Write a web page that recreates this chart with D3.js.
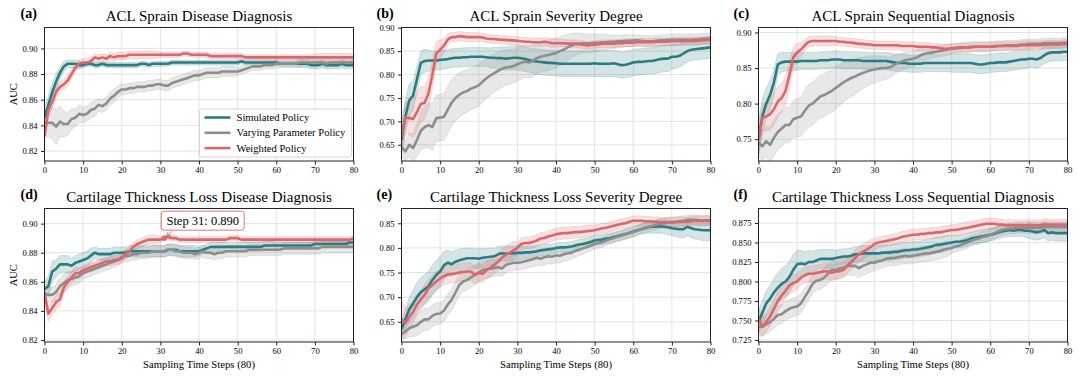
<!DOCTYPE html>
<html lang="en">
<head>
<meta charset="utf-8">
<script src="https://d3js.org/d3.v7.min.js"></script>
<style>
  body { margin: 0; background: #fff; }
  svg text { font-family: "Liberation Serif", "Times New Roman", serif; fill: #000; }
  .grid line { stroke: #e3e3e3; stroke-width: 1; }
  .axis path, .axis line { stroke: #222; }
</style>
</head>
<body>
<svg id="chart" width="1079" height="379"></svg>
<script>

// AUC values are stored x1000, one value per sampling step 0..80
var steps = d3.range(0, 81);
var seriesNames = ["Simulated Policy", "Varying Parameter Policy", "Weighted Policy"];
var seriesColors = ["#2b7b80", "#8d8d8d", "#d9676b"];

// (a) ACL Sprain Disease Diagnosis
var a_sim = [846,856,866,874,881,886,888,888,888,887, 887,888,888,887,887,888,887,887,887,887,
  887,887,887,887,887,888,888,887,888,888, 888,888,888,889,889,889,889,889,889,889,
  889,889,889,889,889,889,889,889,889,889, 889,890,889,889,889,889,889,889,889,889,
  889,888,888,888,888,888,888,888,888,887, 887,887,888,887,887,887,887,888,887,887,887];
var a_sim_sd = [8,7,7,6,5,4,3,3,3,3, 2,2,2,2,2,2,2,2,2,2, 2,2,2,2,2,2,2,2,2,2, 2,2,2,2,2,2,2,2,2,2,
  2,2,2,2,2,2,2,2,2,2, 2,2,2,2,2,2,2,2,2,2, 2,2,2,2,2,2,3,3,3,3, 3,3,3,3,3,3,3,3,3,3,3];
var a_var = [842,842,842,839,843,841,841,845,846,849, 848,849,852,853,856,855,857,861,863,866,
  868,868,869,869,870,870,870,871,871,872, 872,871,871,873,874,875,876,877,878,879,
  879,880,881,881,881,881,882,882,882,882, 882,883,884,885,886,886,886,887,887,887,
  888,888,888,888,888,888,889,889,889,889, 889,889,889,888,889,889,889,889,889,889,889];
var a_var_sd = [10,11,12,14,12,10,9,8,7,7, 6,6,6,6,5,5,5,5,5,5, 4,4,4,4,4,4,4,4,4,4, 4,4,4,4,4,4,4,4,4,4,
  4,4,4,4,4,4,4,4,4,4, 3,3,3,3,3,3,3,3,3,3, 3,3,3,3,3,3,3,3,3,3, 3,3,3,3,3,3,3,3,3,3,3];
var a_wt = [832,852,858,866,870,872,875,880,885,888, 889,889,890,893,892,893,892,894,893,894,
  894,894,895,895,895,895,895,895,895,895, 895,895,895,895,895,895,896,896,895,895,
  895,895,895,894,894,894,894,894,894,894, 894,894,893,893,893,893,893,893,893,893,
  893,893,893,893,893,893,893,893,893,893, 893,893,893,893,893,893,893,893,893,893,893];
var a_wt_sd = [8,6,5,5,4,4,4,4,3,3, 3,3,3,3,3,3,3,3,3,3, 3,3,3,3,3,3,3,3,3,3, 2,2,2,2,2,2,2,2,2,2,
  2,2,2,2,2,2,2,2,2,2, 2,2,2,2,2,2,2,2,2,2, 2,2,2,2,2,2,2,2,2,2, 3,3,3,3,3,3,3,3,3,3,3];

// (b) ACL Sprain Severity Degree
var b_sim = [660,710,745,755,790,825,829,830,830,830, 831,832,833,835,836,836,837,837,838,838,
  838,838,837,836,836,835,835,834,835,836, 836,835,833,831,829,828,827,826,825,825,
  824,823,823,823,823,823,823,823,823,823, 824,823,823,823,823,824,822,820,821,823,
  826,827,827,828,829,829,831,833,834,834, 838,838,840,845,850,853,854,855,856,857,858];
var b_sim_sd = [30,35,35,30,28,25,25,22,20,20, 20,20,20,20,20,20,20,20,20,20, 20,20,20,21,22,23,24,25,25,25,
  26,26,26,26,26,27,27,27,27,27, 27,27,27,27,27,27,27,27,27,27, 28,28,28,28,28,28,28,28,28,28,
  28,28,28,28,28,28,28,28,28,28, 26,25,24,24,23,23,23,23,23,23,23];
var b_var = [646,636,650,643,660,680,688,692,688,707, 708,710,725,740,750,757,762,765,770,773,
  777,785,792,798,803,808,812,815,816,818, 822,825,828,826,829,835,838,840,842,844,
  846,850,853,858,862,865,866,867,866,867, 868,868,869,869,870,870,871,871,872,872,
  873,873,872,871,871,871,872,873,873,874, 874,874,875,874,874,874,875,875,876,876,877];
var b_var_sd = [20,22,25,30,35,40,45,48,50,50, 50,50,50,50,48,47,46,46,45,45, 45,44,43,42,41,40,39,38,37,36,
  35,35,34,34,34,33,33,33,33,33, 32,31,30,28,26,24,22,21,20,20, 19,18,17,16,15,14,14,13,13,13,
  12,12,12,12,12,12,12,12,12,12, 12,12,12,12,12,12,12,12,12,12,12];
var b_wt = [668,708,707,705,720,737,740,760,800,845, 853,862,875,880,880,882,881,880,880,880,
  880,879,877,876,876,875,874,874,873,873, 872,871,870,870,869,869,869,870,869,867,
  867,867,867,866,866,866,865,864,862,863, 864,865,866,866,866,866,867,867,868,868,
  868,869,869,869,869,869,870,870,870,870, 871,871,871,871,872,872,872,873,873,874,874];
var b_wt_sd = [35,35,35,40,40,38,35,32,30,25, 20,15,12,10,10,10,10,10,10,10, 9,9,9,9,9,9,9,9,9,9,
  9,9,9,9,9,9,9,9,9,9, 8,8,8,8,8,8,8,8,8,8, 8,8,8,8,8,8,8,8,8,8, 8,8,8,8,8,8,8,8,8,8, 8,8,8,8,8,8,8,8,8,8,8];

// (c) ACL Sprain Sequential Diagnosis
var c_sim = [750,782,800,812,830,855,858,859,859,859, 859,860,860,860,860,860,861,861,861,862,
  862,862,861,861,861,861,861,860,860,860, 860,860,860,860,859,858,857,857,857,856,
  856,856,856,857,857,857,857,857,857,857, 857,857,857,857,857,857,856,855,855,856,
  857,857,858,858,858,859,860,861,862,862, 863,863,862,864,868,871,872,872,872,873,873];
var c_sim_sd = [25,25,22,20,18,15,14,13,13,13, 12,12,12,12,12,12,12,12,12,12, 12,12,12,12,12,12,12,12,12,12,
  12,12,12,12,12,12,12,12,12,12, 12,12,12,12,12,12,12,12,12,12, 13,13,13,13,13,13,13,13,13,13,
  13,13,13,13,13,13,13,13,13,13, 12,12,12,12,12,12,12,12,12,12,12];
var c_var = [745,740,747,742,752,760,765,770,770,778, 780,782,790,797,800,805,810,812,815,818,
  822,826,830,833,836,838,841,843,845,847, 848,849,850,850,851,854,857,859,861,862,
  863,865,868,870,871,872,873,874,875,876, 877,878,878,879,879,880,880,880,880,880,
  880,881,881,881,882,882,882,882,883,883, 884,884,884,884,885,885,885,885,885,886,886];
var c_var_sd = [20,20,22,25,25,25,25,25,25,26, 27,28,29,30,30,30,30,30,30,30, 30,29,28,27,26,25,24,22,21,20,
  19,18,17,16,15,14,13,12,12,11, 11,10,10,9,9,8,8,8,8,8, 7,7,7,7,7,7,7,7,7,7,
  7,7,7,7,7,7,7,7,7,7, 7,7,7,7,7,7,7,7,7,7,7];
var c_wt = [748,780,782,785,792,803,808,818,840,865, 872,876,882,887,888,888,888,888,888,888,
  888,887,887,886,886,885,884,884,883,883, 882,882,882,882,882,882,882,881,881,881,
  881,880,880,880,880,879,879,878,877,877, 878,878,879,879,879,879,880,880,880,880,
  880,880,881,881,881,881,881,881,882,882, 882,882,882,882,883,883,883,883,883,884,884];
var c_wt_sd = [20,18,20,22,22,22,20,20,18,15, 12,10,8,7,7,7,7,7,7,7, 6,6,6,6,6,6,6,6,6,6,
  6,6,6,6,6,6,6,6,6,6, 6,6,6,6,6,6,6,6,6,6, 6,6,6,6,6,6,6,6,6,6, 6,6,6,6,6,6,6,6,6,6, 6,6,6,6,6,6,6,6,6,6,6];

// (d) Cartilage Thickness Loss Disease Diagnosis
var d_sim = [855,857,867,869,872,872,872,871,873,874, 875,876,878,880,879,879,879,879,880,880,
  880,880,881,881,881,881,881,881,881,881, 881,881,882,882,882,881,881,881,881,881,
  881,882,883,884,884,884,884,884,884,884, 884,884,884,884,884,884,884,885,885,885,
  885,885,885,885,885,885,885,885,885,885, 886,886,886,886,886,886,886,886,886,887,887];
var d_sim_sd = [5,7,7,6,6,6,6,5,5,5, 5,5,5,4,4,4,4,4,4,4, 4,4,4,4,4,4,4,4,4,4, 4,4,4,4,4,4,4,4,4,4,
  3,3,3,3,3,3,3,3,3,3, 3,3,3,3,3,3,3,3,3,3, 2,2,2,2,2,2,2,2,2,2, 2,2,2,2,2,2,2,2,2,2,2];
var d_var = [852,851,851,853,857,859,861,862,863,864, 866,867,868,869,870,871,872,873,874,875,
  877,878,878,879,879,880,880,880,881,881, 881,881,882,882,881,881,880,880,880,879,
  880,881,880,880,879,880,880,881,881,881, 881,881,881,882,882,882,882,882,882,882,
  882,882,883,883,883,883,883,883,883,883, 883,883,884,884,884,884,884,884,884,884,884];
var d_var_sd = [4,5,5,5,6,6,6,5,5,5, 4,4,4,4,4,4,4,4,4,4, 4,4,4,4,4,4,4,4,4,4, 4,4,4,4,4,4,4,4,4,4,
  4,4,4,4,4,4,4,4,4,4, 4,4,4,4,4,4,4,4,4,4, 4,4,4,4,4,4,4,4,4,4, 4,4,4,4,4,4,4,4,4,4,4];
var d_wt = [852,838,842,846,848,856,860,863,866,866, 868,869,870,871,872,873,874,874,875,875,
  876,879,881,884,886,887,888,889,889,889, 889,890,891,890,890,889,889,889,889,889,
  889,889,889,889,889,889,889,889,890,890, 890,889,889,889,889,889,889,889,889,889,
  889,889,889,889,889,889,889,889,889,889, 889,889,889,889,889,889,889,889,889,889,890];
var d_wt_sd = [4,5,5,5,5,4,4,4,4,4, 3,3,3,3,3,3,3,3,3,3, 3,3,3,3,3,3,3,3,3,3, 2,2,2,2,2,2,2,2,2,2,
  2,2,2,2,2,2,2,2,2,2, 2,2,2,2,2,2,2,2,2,2, 2,2,2,2,2,2,2,2,2,2, 2,2,2,2,2,2,2,2,2,2,2];

// (e) Cartilage Thickness Loss Severity Degree
var e_sim = [635,655,675,687,700,710,716,722,735,745, 752,765,770,767,772,775,777,779,779,779,
  778,780,781,782,783,787,789,788,789,789, 790,790,791,791,792,793,795,796,797,798,
  800,801,801,802,803,805,807,808,810,812, 815,816,817,819,820,822,824,826,828,831,
  833,836,838,840,842,843,843,844,843,842, 840,839,838,838,843,840,838,837,836,836,836];
var e_sim_sd = [15,20,25,28,30,30,30,30,30,30, 30,28,26,25,24,23,22,21,20,20, 20,19,18,17,16,16,15,15,15,15,
  15,14,13,13,12,12,11,11,11,10, 10,10,10,10,10,10,10,10,10,10, 10,10,10,10,10,10,10,10,10,10,
  10,10,10,11,12,13,13,14,14,15, 15,16,17,18,18,19,20,20,21,21,21];
var e_var = [625,630,637,640,643,650,655,655,662,666, 667,673,685,695,710,725,732,735,740,745,
  750,755,757,758,759,761,758,765,768,770, 770,771,773,775,777,780,778,781,783,782,
  785,784,787,789,790,794,796,799,802,805, 808,810,812,815,818,820,823,825,828,830,
  832,835,838,841,843,845,847,849,850,851, 852,853,854,855,856,857,857,856,855,855,854];
var e_var_sd = [12,15,18,20,22,22,22,22,22,22, 22,22,22,22,22,21,20,20,20,20, 20,19,18,18,17,17,16,16,15,15,
  15,15,15,15,15,15,15,15,15,15, 15,15,14,14,13,13,12,12,11,11, 10,10,10,10,10,10,10,10,10,10,
  10,10,10,10,10,10,10,10,10,10, 10,10,10,10,10,10,10,10,10,10,10];
var e_wt = [655,648,660,670,685,695,705,718,725,732, 738,743,746,747,748,750,751,752,752,745,
  750,747,755,760,765,772,780,786,790,795, 800,808,810,810,812,815,819,820,823,825,
  828,829,830,830,831,832,832,833,834,835, 836,838,840,841,843,845,847,849,850,853,
  855,855,855,854,854,853,853,852,852,852, 852,852,853,853,853,854,855,855,855,856,856];
var e_wt_sd = [40,30,25,22,20,20,20,20,20,20, 18,18,18,18,18,18,18,18,18,18, 18,18,18,18,18,18,18,18,18,18,
  12,12,12,12,12,12,12,12,12,12, 12,12,12,12,12,12,12,12,12,12, 10,10,10,10,10,10,10,10,10,10,
  10,10,10,10,10,10,10,10,10,10, 10,10,10,10,10,10,10,10,10,10,10];

// (f) Cartilage Thickness Loss Sequential Diagnosis
var f_sim = [748,760,772,778,786,792,797,800,806,815, 822,823,822,825,825,827,829,829,829,829,
  830,831,832,832,833,835,835,836,836,836, 836,836,837,837,837,838,838,839,840,840,
  841,841,842,843,844,845,847,847,848,849, 850,851,851,852,853,855,856,857,858,859,
  860,861,863,864,865,866,865,866,866,865, 865,864,863,864,866,862,863,862,862,862,862];
var f_sim_sd = [15,15,16,17,18,19,20,20,20,20, 18,17,16,15,14,13,12,12,12,12, 10,10,10,10,10,10,10,10,10,10,
  10,10,10,10,10,10,10,10,10,10, 10,10,10,10,10,10,10,10,10,10, 8,8,8,8,8,8,8,8,8,8,
  8,8,8,8,8,8,8,8,8,8, 10,10,10,10,10,10,10,10,10,10,10];
var f_var = [742,742,745,748,752,757,758,762,765,767, 768,772,780,788,797,801,802,805,810,815,
  815,817,818,820,820,820,817,820,822,824, 824,826,827,829,830,830,831,832,833,832,
  833,834,835,836,836,837,838,839,841,842, 843,845,846,848,850,852,854,855,857,858,
  860,862,864,866,867,868,868,869,869,869, 869,869,869,869,870,870,870,870,870,870,870];
var f_var_sd = [12,12,12,12,12,12,12,12,12,12, 12,12,12,12,12,12,12,12,12,12, 12,12,12,12,12,12,12,12,12,12,
  10,10,10,10,10,10,10,10,10,10, 10,10,10,10,10,10,10,10,10,10, 7,7,7,7,7,7,7,7,7,7,
  7,7,7,7,7,7,7,7,7,7, 7,7,7,7,7,7,7,7,7,7,7];
var f_wt = [752,742,748,755,765,775,782,788,795,798, 800,805,808,810,810,811,812,813,813,811,
  813,813,815,820,825,830,835,838,841,844, 848,850,851,852,853,854,855,857,858,859,
  860,860,861,861,862,862,863,863,864,865, 866,866,867,868,869,870,871,872,873,874,
  874,874,873,873,872,872,872,872,872,872, 872,872,872,872,873,873,873,873,873,873,873];
var f_wt_sd = [15,13,12,12,12,12,12,11,11,11, 10,10,10,10,10,10,10,10,10,10, 10,10,10,10,10,10,10,10,10,10,
  7,7,7,7,7,7,7,7,7,7, 7,7,7,7,7,7,7,7,7,7, 7,7,7,7,7,7,7,7,7,7, 7,7,7,7,7,7,7,7,7,7, 7,7,7,7,7,7,7,7,7,7,7];

var xTicks = [0, 10, 20, 30, 40, 50, 60, 70, 80];
var yTicksA = [0.82, 0.84, 0.86, 0.88, 0.90];
var yTicksB = [0.65, 0.70, 0.75, 0.80, 0.85, 0.90];
var yTicksC = [0.75, 0.80, 0.85, 0.90];
var yTicksD = [0.82, 0.84, 0.86, 0.88, 0.90];
var yTicksE = [0.65, 0.70, 0.75, 0.80, 0.85];
var yTicksF = [0.725, 0.750, 0.775, 0.800, 0.825, 0.850, 0.875];

var panels = [
  { tag: "(a)", title: "ACL Sprain Disease Diagnosis", col: 0, row: 0, dom: [0.8122, 0.9163], ticks: yTicksA, fmt: ".2f",
    mean: [a_sim, a_var, a_wt], sd: [a_sim_sd, a_var_sd, a_wt_sd] },
  { tag: "(b)", title: "ACL Sprain Severity Degree", col: 1, row: 0, dom: [0.6154, 0.9005], ticks: yTicksB, fmt: ".2f",
    mean: [b_sim, b_var, b_wt], sd: [b_sim_sd, b_var_sd, b_wt_sd] },
  { tag: "(c)", title: "ACL Sprain Sequential Diagnosis", col: 2, row: 0, dom: [0.7193, 0.907], ticks: yTicksC, fmt: ".2f",
    mean: [c_sim, c_var, c_wt], sd: [c_sim_sd, c_var_sd, c_wt_sd] },
  { tag: "(d)", title: "Cartilage Thickness Loss Disease Diagnosis", col: 0, row: 1, dom: [0.8186, 0.9104], ticks: yTicksD, fmt: ".2f",
    mean: [d_sim, d_var, d_wt], sd: [d_sim_sd, d_var_sd, d_wt_sd] },
  { tag: "(e)", title: "Cartilage Thickness Loss Severity Degree", col: 1, row: 1, dom: [0.609, 0.880], ticks: yTicksE, fmt: ".2f",
    mean: [e_sim, e_var, e_wt], sd: [e_sim_sd, e_var_sd, e_wt_sd] },
  { tag: "(f)", title: "Cartilage Thickness Loss Sequential Diagnosis", col: 2, row: 1, dom: [0.7224, 0.8936], ticks: yTicksF, fmt: ".3f",
    mean: [f_sim, f_var, f_wt], sd: [f_sim_sd, f_var_sd, f_wt_sd] }
];

var colLeft = [44.5, 401.5, 758.5];
var colW = 309;
var rowTop = [27.5, 208.5];
var rowH = 133.5;

var svg = d3.select("#chart");
svg.append("rect").attr("width", 1079).attr("height", 379).attr("fill", "#fff");

panels.forEach(function (p, pi) {
  var x0 = colLeft[p.col], y0 = rowTop[p.row];
  var g = svg.append("g").attr("transform", "translate(" + x0 + "," + y0 + ")");

  var x = d3.scaleLinear().domain([0, 80]).range([0, colW]);
  var y = d3.scaleLinear().domain(p.dom).range([rowH, 0]);

  // grid
  var grid = g.append("g").attr("class", "grid");
  grid.selectAll(".gx").data(xTicks).enter().append("line")
    .attr("x1", d => x(d)).attr("x2", d => x(d)).attr("y1", 0).attr("y2", rowH);
  grid.selectAll(".gy").data(p.ticks).enter().append("line")
    .attr("x1", 0).attr("x2", colW).attr("y1", d => y(d)).attr("y2", d => y(d));

  var clipId = "clip" + pi;
  g.append("clipPath").attr("id", clipId).append("rect").attr("width", colW).attr("height", rowH);
  var plot = g.append("g").attr("clip-path", "url(#" + clipId + ")");

  p.mean.forEach(function (m, si) {
    var sd = p.sd[si];
    var area = d3.area()
      .x(d => x(d))
      .y0(d => y((m[d] - sd[d]) / 1000))
      .y1(d => y((m[d] + sd[d]) / 1000));
    plot.append("path").datum(steps)
      .attr("d", area)
      .attr("fill", seriesColors[si]).attr("fill-opacity", 0.2)
      .attr("stroke", seriesColors[si]).attr("stroke-opacity", 0.25).attr("stroke-width", 0.8);
  });
  p.mean.forEach(function (m, si) {
    var line = d3.line().x(d => x(d)).y(d => y(m[d] / 1000));
    plot.append("path").datum(steps)
      .attr("d", line)
      .attr("fill", "none")
      .attr("stroke", seriesColors[si])
      .attr("stroke-width", 2.6)
      .attr("stroke-linejoin", "round");
  });

  // axes
  var xAxis = g.append("g").attr("class", "axis").attr("transform", "translate(0," + rowH + ")")
    .call(d3.axisBottom(x).tickValues(xTicks).tickSize(3.5).tickPadding(2).tickSizeOuter(0));
  xAxis.selectAll("text").attr("font-size", "8.6px").attr("font-family", "Liberation Serif");
  xAxis.select(".domain").remove();
  var yAxis = g.append("g").attr("class", "axis")
    .call(d3.axisLeft(y).tickValues(p.ticks).tickFormat(d3.format(p.fmt)).tickSize(3.5).tickPadding(3.5).tickSizeOuter(0));
  yAxis.selectAll("text").attr("font-size", "8.6px").attr("font-family", "Liberation Serif");
  yAxis.select(".domain").remove();

  g.append("rect").attr("width", colW).attr("height", rowH)
    .attr("fill", "none").attr("stroke", "#222").attr("stroke-width", 1);

  // titles
  g.append("text").attr("x", colW / 2).attr("y", -7)
    .attr("text-anchor", "middle").attr("font-size", "15px").text(p.title);
  g.append("text").attr("x", p.col === 0 ? -24 : -25).attr("y", -10)
    .attr("font-size", "14px").attr("font-weight", "bold").text(p.tag);

  if (p.col === 0) {
    g.append("text").attr("transform", "translate(-28," + (rowH / 2) + ") rotate(-90)")
      .attr("text-anchor", "middle").attr("font-size", "10.5px").text("AUC");
  }
  if (p.row === 1) {
    g.append("text").attr("x", colW / 2).attr("y", rowH + 26)
      .attr("text-anchor", "middle").attr("font-size", "10.7px").text("Sampling Time Steps (80)");
  }

  // legend in panel (a)
  if (pi === 0) {
    var lg = g.append("g").attr("transform", "translate(" + (colW - 154) + "," + (rowH - 52) + ")");
    lg.append("rect").attr("width", 152).attr("height", 48).attr("rx", 2)
      .attr("fill", "#fff").attr("fill-opacity", 0.85).attr("stroke", "#ccc").attr("stroke-width", 0.8);
    seriesNames.forEach(function (n, i) {
      var yy = 8.5 + i * 15.3;
      lg.append("line").attr("x1", 5).attr("x2", 31).attr("y1", yy).attr("y2", yy)
        .attr("stroke", seriesColors[i]).attr("stroke-width", 2.6);
      lg.append("text").attr("x", 37).attr("y", yy + 3.6).attr("font-size", "10.6px").text(n);
    });
  }

  // annotation in panel (d)
  if (pi === 3) {
    var px = x(31), py = y(d_wt[31] / 1000);
    g.append("defs").append("marker").attr("id", "arr").attr("viewBox", "0 0 10 10")
      .attr("refX", 9).attr("refY", 5).attr("markerWidth", 5).attr("markerHeight", 5).attr("orient", "auto")
      .append("path").attr("d", "M0,0L10,5L0,10").attr("fill", "none").attr("stroke", seriesColors[2]).attr("stroke-width", 1.5);
    g.append("line").attr("x1", px + 8).attr("y1", py - 7).attr("x2", px + 2.5).attr("y2", py - 2)
      .attr("stroke", seriesColors[2]).attr("stroke-width", 0.9).attr("marker-end", "url(#arr)");
    g.append("circle").attr("cx", px).attr("cy", py).attr("r", 2.6).attr("fill", seriesColors[2]);
    var bx = px - 3, by = py - 27;
    g.append("rect").attr("x", bx).attr("y", by).attr("width", 83).attr("height", 19).attr("rx", 3)
      .attr("fill", "#fff").attr("stroke", seriesColors[2]).attr("stroke-width", 0.9);
    g.append("text").attr("x", bx + 41.5).attr("y", by + 13.8).attr("text-anchor", "middle")
      .attr("font-size", "12.5px").text("Step 31: 0.890");
  }
});
</script>
</body>
</html>
